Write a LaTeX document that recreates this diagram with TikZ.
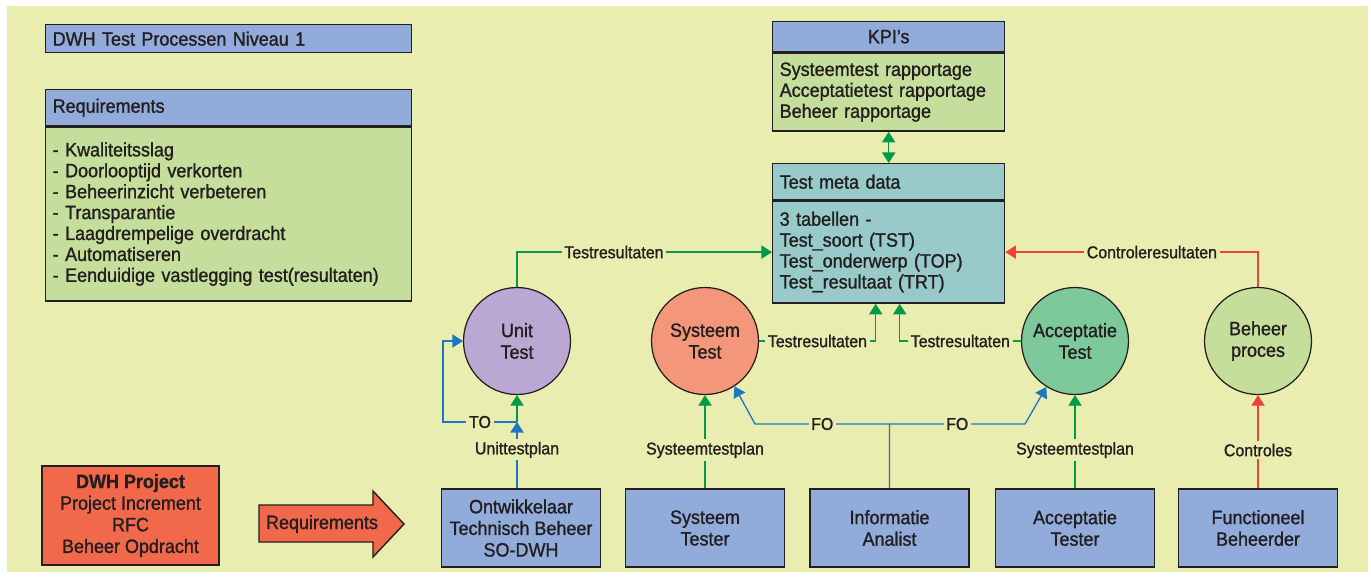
\documentclass[tikz,border=0pt]{standalone}
\usepackage{fontspec}
\setmainfont[FakeStretch=0.93,FakeBold=1.2]{Liberation Sans}
\usetikzlibrary{arrows.meta,calc}

\definecolor{bgcol}{RGB}{233,237,176}
\definecolor{hdrblue}{RGB}{145,171,219}
\definecolor{bodygreen}{RGB}{197,222,155}
\definecolor{metateal}{RGB}{151,202,200}
\definecolor{unitlila}{RGB}{186,168,211}
\definecolor{systsalm}{RGB}{244,150,122}
\definecolor{accmint}{RGB}{126,201,155}
\definecolor{projred}{RGB}{241,104,74}
\definecolor{lijngroen}{RGB}{0,154,73}
\definecolor{lijnblauw}{RGB}{31,119,196}
\definecolor{lijnrood}{RGB}{239,65,54}
\definecolor{inkt}{RGB}{35,31,32}

\tikzset{
  kader/.style={draw=inkt, line width=0.8pt, anchor=north west, inner xsep=0.14cm, inner ysep=0pt,
    align=left, text=inkt, font=\fontsize{11}{11.9}\selectfont},
  rol/.style={draw=inkt, line width=0.8pt, fill=hdrblue, minimum width=3.18cm, minimum height=1.56cm,
    align=center, text=inkt, font=\fontsize{11}{12.3}\selectfont},
  proces/.style={circle, draw=inkt, line width=0.7pt, minimum size=2.14cm, inner sep=0pt,
    align=center, text=inkt, font=\fontsize{11}{12.3}\selectfont},
  stroom/.style={line width=0.75pt, -{Triangle[width=7.5pt,length=6pt]}},
  lbl/.style={fill=bgcol, inner sep=1.5pt, text=inkt, font=\fontsize{9.75}{11}\selectfont},
}

\begin{document}
\begin{tikzpicture}[x=0.02cm, y=-0.02cm]
  \useasboundingbox (0,0) rectangle (1371,576);
  \fill[bgcol] (7,6) rectangle (1368,572);

  % left column
  \node[kader, fill=hdrblue, minimum width=7.32cm, minimum height=0.56cm, text width=7.04cm] (titel) at (45,24) {DWH Test Processen Niveau 1};
  \node[kader, fill=hdrblue, minimum width=7.32cm, minimum height=0.72cm, text width=7.04cm] (reqk) at (45,89) {Requirements};
  \node[kader, fill=bodygreen, minimum width=7.32cm, minimum height=3.48cm, text width=7.04cm] (reqb) at (reqk.south west)
    {- Kwaliteitsslag\\- Doorlooptijd verkorten\\- Beheerinzicht verbeteren\\- Transparantie\\- Laagdrempelige overdracht\\- Automatiseren\\- Eenduidige vastlegging test(resultaten)};

  % KPI's and meta data
  \node[kader, fill=hdrblue, minimum width=4.64cm, minimum height=0.6cm, text width=4.36cm, align=center] (kpik) at (772,21) {KPI’s};
  \node[kader, fill=bodygreen, minimum width=4.64cm, minimum height=1.56cm, text width=4.36cm] (kpib) at (kpik.south west)
    {Systeemtest rapportage\\Acceptatietest rapportage\\Beheer rapportage};
  \node[kader, fill=metateal, minimum width=4.64cm, minimum height=0.72cm, text width=4.36cm] (metak) at (772,163) {Test meta data};
  \node[kader, fill=metateal, minimum width=4.64cm, minimum height=2.04cm, text width=4.36cm] (metab) at (metak.south west)
    {3 tabellen -\\Test\_soort (TST)\\Test\_onderwerp (TOP)\\Test\_resultaat (TRT)};

  % processen
  \node[proces, fill=unitlila] (unit) at (517,341) {Unit\\Test};
  \node[proces, fill=systsalm] (syst) at (705,341) {Systeem\\Test};
  \node[proces, fill=accmint] (acc) at (1075,341) {Acceptatie\\Test};
  \node[proces, fill=bodygreen] (beh) at (1258,341) {Beheer\\proces};

  % rollen
  \node[rol] (ontw) at (521,528) {Ontwikkelaar\\Technisch Beheer\\SO-DWH};
  \node[rol] (systr) at (705,528) {Systeem\\Tester};
  \node[rol] (ia) at (889.5,528) {Informatie\\Analist};
  \node[rol] (acct) at (1075,528) {Acceptatie\\Tester};
  \node[rol] (fb) at (1258,528) {Functioneel\\Beheerder};

  \node[draw=inkt, line width=0.8pt, fill=projred, minimum width=3.54cm, minimum height=1.98cm, align=center, text=inkt,
    font=\fontsize{11}{12.3}\selectfont] (proj) at (130.5,515.5) {\textbf{DWH Project}\\Project Increment\\RFC\\Beheer Opdracht};

  % requirements pijl
  \filldraw[draw=inkt, line width=0.8pt, fill=projred, line join=miter]
    (259,505) -- (373,505) -- (373,491) -- (404,524) -- (373,557) -- (373,542) -- (259,542) -- cycle;
  \node[text=inkt, font=\fontsize{11}{12}\selectfont] (reqpijl) at (322,524) {Requirements};

  % resultaten
  \draw[stroom, lijngroen] (unit.north) |- node[lbl, pos=0.69] {Testresultaten} (metab.west);
  \draw[stroom, lijnrood] (beh.north) |- node[lbl, pos=0.71] {Controleresultaten} (metab.east);
  \draw[stroom, lijngroen] (syst.east) -| node[lbl, pos=0.25] {Testresultaten} ($(metab.south)+(-13,0)$);
  \draw[stroom, lijngroen] (acc.west) -| node[lbl, pos=0.25] {Testresultaten} ($(metab.south)+(11,0)$);
  \draw[lijngroen, line width=0.75pt, {Triangle[width=7.5pt,length=6pt]}-{Triangle[width=7.5pt,length=6pt]}] (kpib.south) -- (metak.north);

  % plannen
  \coordinate (tojn) at (517,422);
  \coordinate (tohoek) at (443,422);
  \draw[stroom, lijnblauw] (tojn |- ontw.north) -- node[lbl, pos=0.58] {Unittestplan} (tojn);
  \draw[stroom, lijngroen] (tojn) -- (unit.south);
  \draw[stroom, lijnblauw] (tojn) -- node[lbl] {TO} (tohoek) |- (unit.west);
  \draw[stroom, lijngroen] (systr.north) -- node[lbl, pos=0.41] {Systeemtestplan} (syst.south);
  \draw[stroom, lijngroen] (acct.north) -- node[lbl, pos=0.41] {Systeemtestplan} (acc.south);
  \draw[stroom, lijnrood] (fb.north) -- node[lbl, pos=0.41] {Controles} (beh.south);

  % FO
  \coordinate (fojn) at (ia.north |- 0,424);
  \coordinate (fol) at (755,424);
  \coordinate (forr) at (1025,424);
  \draw[stroom, lijnblauw] (ia.north) -- (fojn) -- node[lbl] {FO} (fol) -- (syst.-57);
  \draw[stroom, lijnblauw] (fojn) -- node[lbl] {FO} (forr) -- (acc.-122);
\end{tikzpicture}
\end{document}
